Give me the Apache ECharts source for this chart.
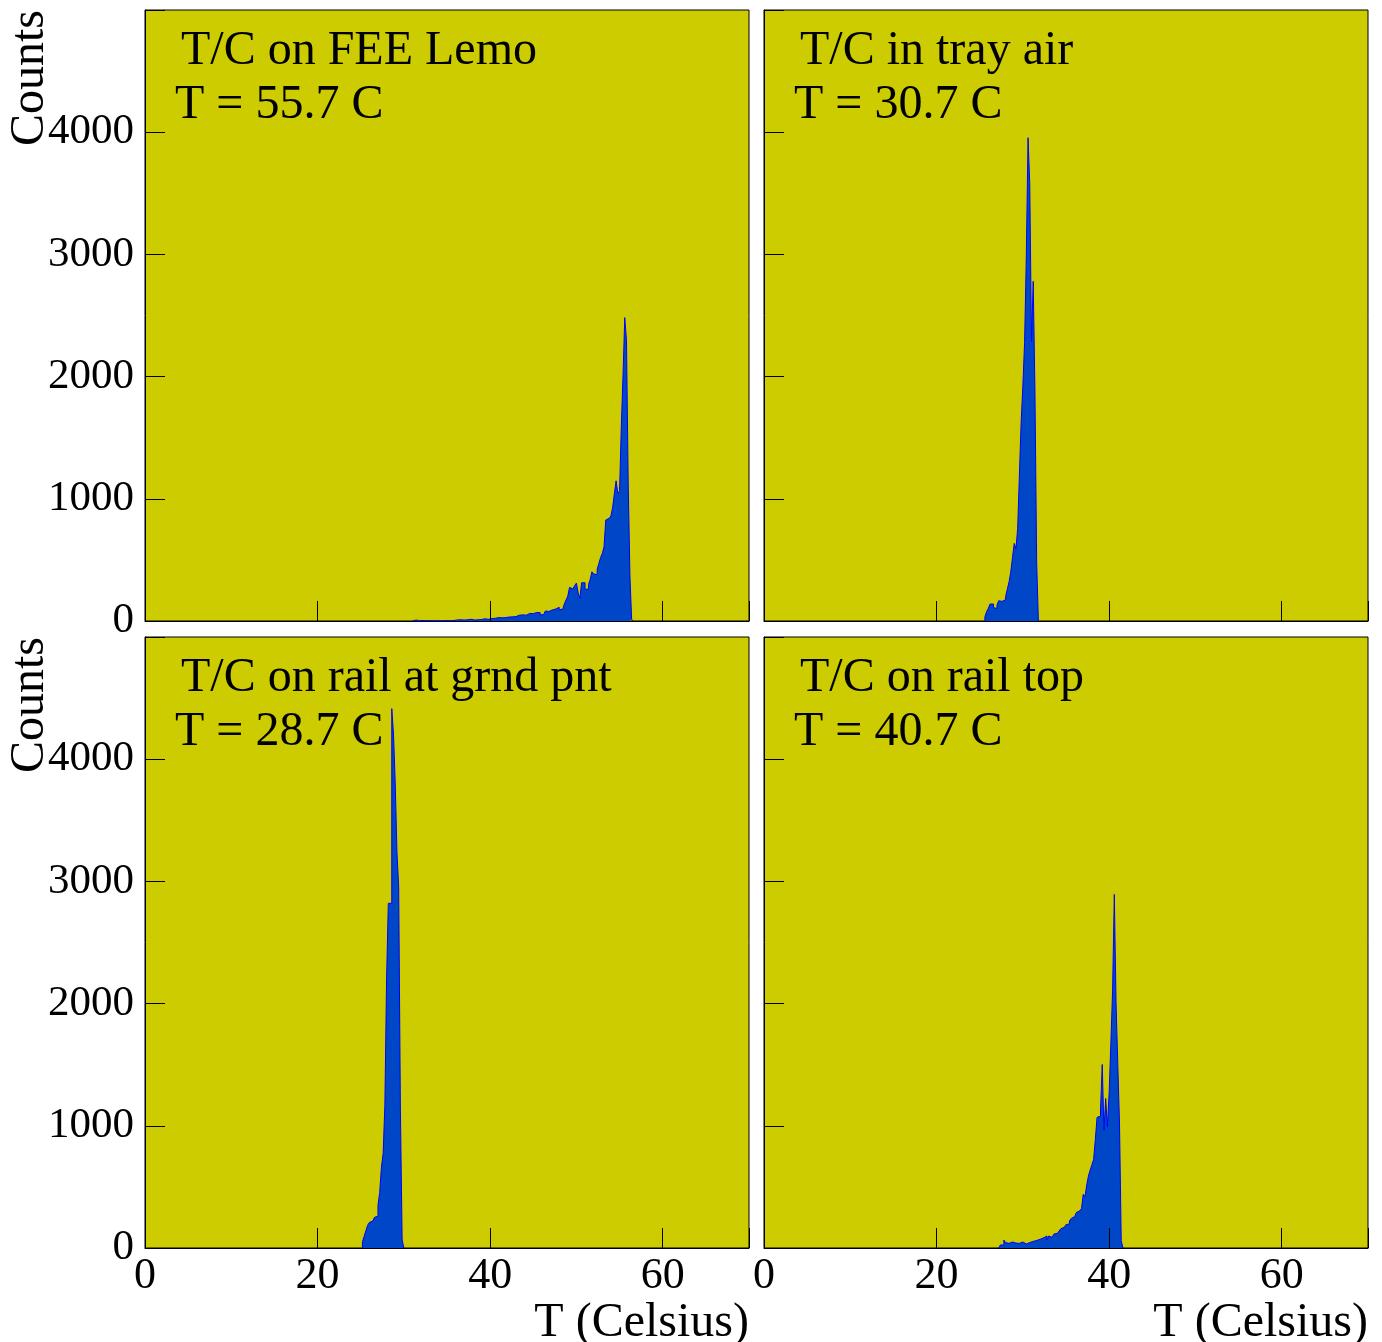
<!DOCTYPE html>
<html>
<head>
<meta charset="utf-8">
<script src="https://cdn.jsdelivr.net/npm/echarts@6/dist/echarts.min.js"></script>
<style>
  html, body { margin: 0; padding: 0; background: #ffffff; }
  #chart { width: 1382px; height: 1342px; }
</style>
</head>
<body>
<div id="chart"></div>
<script>
// Temperature histograms, 0.2 C bins; each panel lists the counts from its first filled bin.
const binWidth = 0.2;

const feeLemoLabel = ['T/C on FEE Lemo', 'T = 55.7 C'];
const feeLemoStart = 31.0;
const feeLemoCounts = [
  3, 8, 8, 3, 2, 4, 4, 3, 3, 3, 3, 3, 2, 2, 3, 2, 2, 3, 8, 4,
  3, 3, 4, 4, 6, 9, 12, 10, 10, 8, 7, 10, 7, 14, 12, 8, 14, 10, 18, 12,
  16, 18, 14, 14, 22, 20, 18, 22, 25, 28, 30, 26, 24, 28, 22, 32, 36, 34, 30, 36,
  46, 48, 52, 50, 55, 48, 50, 62, 60, 60, 62, 70, 72, 68, 50, 52, 65, 82, 78, 76,
  90, 86, 98, 96, 112, 95, 95, 95, 140, 172, 204, 275, 262, 253, 290, 310, 230, 185, 313, 313,
  259, 262, 300, 340, 403, 385, 380, 423, 470, 520, 553, 607, 826, 840, 853, 860, 930, 1044, 1147, 1044,
  1066, 1589, 2009, 2483, 2298, 1131, 368, 12
];

const trayAirLabel = ['T/C in tray air', 'T = 30.7 C'];
const trayAirStart = 25.6;
const trayAirCounts = [
  35, 76, 104, 139, 139, 108, 104, 130, 166, 160, 145, 175, 199, 260, 320, 400, 520, 635, 591, 758,
  1194, 1625, 1924, 2279, 2979, 3955, 3579, 2284, 2780, 1883, 480
];

const railGrndLabel = ['T/C on rail at grnd pnt', 'T = 28.7 C'];
const railGrndStart = 25.2;
const railGrndCounts = [
  52, 96, 141, 186, 209, 221, 235, 251, 260, 349, 454, 662, 775, 1168, 2210, 2821, 2821, 4414, 4205, 3803,
  3238, 2955, 1138, 66
];

const railTopLabel = ['T/C on rail top', 'T = 40.7 C'];
const railTopStart = 27.2;
const railTopCounts = [
  11, 25, 25, 65, 44, 38, 42, 49, 33, 40, 44, 38, 45, 49, 40, 33, 49, 44, 48, 54,
  65, 62, 60, 71, 79, 83, 87, 98, 65, 98, 87, 100, 114, 120, 131, 139, 158, 169, 180, 192,
  196, 221, 242, 256, 270, 290, 305, 316, 324, 440, 420, 515, 589, 638, 680, 725, 889, 1069, 1079, 1128,
  1502, 965, 1224, 992, 1273, 1674, 2110, 2894, 2006, 1510, 1025, 60
];

const xTicks = [0, 20, 40, 60];
const yTicks = [0, 1000, 2000, 3000, 4000];
const xTitle = 'T (Celsius)';
const yTitle = 'Counts';

const FONT = '"Liberation Serif", "DejaVu Serif", serif';

// Step outline of a histogram: left edge of every bin, closed back to zero on both ends.
function histPoints(start, counts) {
  const pts = [[start, 0]];
  counts.forEach((c, i) => pts.push([+(start + i * binWidth).toFixed(2), c]));
  pts.push([+(start + counts.length * binWidth).toFixed(2), 0]);
  return pts;
}

const panels = [
  { label: feeLemoLabel, start: feeLemoStart, counts: feeLemoCounts, left: 145, top: 10, xLab: false, yLab: true },
  { label: trayAirLabel, start: trayAirStart, counts: trayAirCounts, left: 764, top: 10, xLab: false, yLab: false },
  { label: railGrndLabel, start: railGrndStart, counts: railGrndCounts, left: 145, top: 637, xLab: true, yLab: true },
  { label: railTopLabel, start: railTopStart, counts: railTopCounts, left: 764, top: 637, xLab: true, yLab: false }
];
const PW = 604, PH = 611;

const grid = [], xAxis = [], yAxis = [], series = [], graphic = [];
panels.forEach((p, i) => {
  grid.push({
    left: p.left, top: p.top, width: PW, height: PH,
    show: true, backgroundColor: '#cccc00', borderColor: '#000000', borderWidth: 1
  });
  xAxis.push({
    gridIndex: i, type: 'value', min: 0, max: 70, interval: 20, z: 5,
    axisLine: { show: true, onZero: false, lineStyle: { color: '#000000', width: 1 } },
    axisTick: { show: true, inside: true, length: 20, lineStyle: { color: '#000000', width: 1 } },
    axisLabel: {
      show: p.xLab, color: '#000000', fontFamily: FONT, fontSize: 44, margin: 6,
      formatter: v => (xTicks.indexOf(v) >= 0 ? String(v) : '')
    },
    splitLine: { show: false }
  });
  yAxis.push({
    gridIndex: i, type: 'value', min: 0, max: 5000, interval: 1000, z: 5,
    axisLine: { show: true, onZero: false, lineStyle: { color: '#000000', width: 1 } },
    axisTick: { show: true, inside: true, length: 20, lineStyle: { color: '#000000', width: 1 } },
    axisLabel: {
      show: p.yLab, color: '#000000', fontFamily: FONT, fontSize: 43, margin: 11,
      formatter: v => (yTicks.indexOf(v) >= 0 ? String(v) : '')
    },
    splitLine: { show: false }
  });
  series.push({
    type: 'line', xAxisIndex: i, yAxisIndex: i, step: 'end', symbol: 'none',
    data: histPoints(p.start, p.counts),
    lineStyle: { color: '#0000ff', width: 1 },
    areaStyle: { color: '#0047c8', opacity: 1 },
    z: 2
  });
  graphic.push({
    type: 'text', left: p.left + 36, top: p.top + 17, z: 10,
    style: { text: p.label[0], font: '48px ' + FONT, fill: '#000000' }
  });
  graphic.push({
    type: 'text', left: p.left + 30, top: p.top + 71, z: 10,
    style: { text: p.label[1], font: '48px ' + FONT, fill: '#000000' }
  });
});

// Axis titles
[10, 637].forEach(top => {
  graphic.push({
    type: 'text', x: 30, y: top, rotation: Math.PI / 2, z: 10,
    style: { text: yTitle, font: '48px ' + FONT, fill: '#000000', textAlign: 'right', textVerticalAlign: 'middle' }
  });
});
[145 + PW, 764 + PW].forEach(right => {
  graphic.push({
    type: 'text', x: right, y: 1323, z: 10,
    style: { text: xTitle, font: '48px ' + FONT, fill: '#000000', textAlign: 'right', textVerticalAlign: 'middle' }
  });
});

const chart = echarts.init(document.getElementById('chart'), null, { renderer: 'canvas' });
chart.setOption({
  animation: false,
  backgroundColor: '#ffffff',
  grid, xAxis, yAxis, series, graphic
});
</script>
</body>
</html>
